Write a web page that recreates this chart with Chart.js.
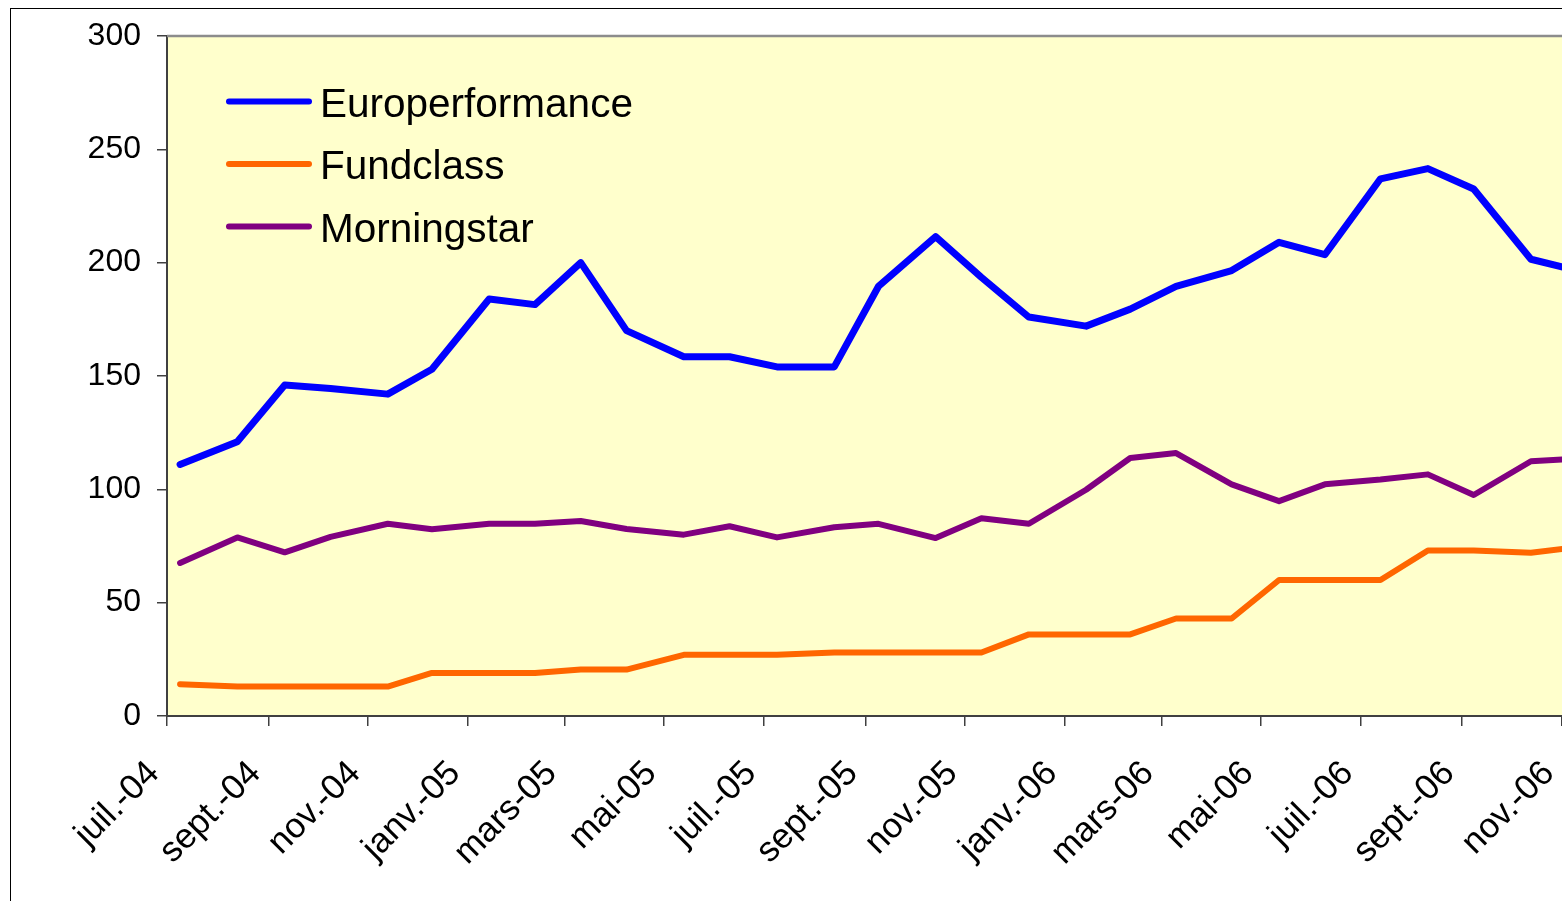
<!DOCTYPE html>
<html>
<head>
<meta charset="utf-8">
<script src="https://cdn.jsdelivr.net/npm/chart.js@4/dist/chart.umd.min.js"></script>
<style>
html,body{margin:0;padding:0;background:#ffffff;overflow:hidden;}
#wrap{width:1562px;height:901px;position:relative;}
</style>
</head>
<body>
<div id="wrap"><canvas id="c" width="1562" height="901"></canvas></div>
<script>
// ---- data ----
const dates = ["2004-07-09","2004-08-13","2004-09-11","2004-10-09","2004-11-13","2004-12-10",
  "2005-01-14","2005-02-11","2005-03-11","2005-04-08","2005-05-13","2005-06-10",
  "2005-07-09","2005-08-13","2005-09-09","2005-10-14","2005-11-11","2005-12-10",
  "2006-01-14","2006-02-10","2006-03-10","2006-04-13","2006-05-12","2006-06-09",
  "2006-07-13","2006-08-11","2006-09-08","2006-10-13","2006-11-10"];
const europerformance = [111,121,146,144.5,142,153,184,181.5,200,170,158.5,158.5,
  154,154,189.5,211.5,193.5,176,172,179.5,189.5,196.5,209,203.5,237,241.5,232.5,201.5,196.5];
const fundclass = [14,13,13,13,13,19,19,19,20.5,20.5,27,27,
  27,28,28,28,28,36,36,36,43,43,60,60,60,73,73,72,74.5];
const morningstar = [67.5,78.8,72.2,79,84.8,82.4,84.8,84.8,86,82.5,80,83.7,
  78.8,83.3,84.8,78.5,87.2,84.8,99.8,113.8,116,102.2,94.8,102.2,104.3,106.6,97.5,112.4,113.5];
const seriesNames = ["Europerformance","Fundclass","Morningstar"];
const tickDates = ["2004-07-01","2004-09-01","2004-11-01","2005-01-01","2005-03-01","2005-05-01",
  "2005-07-01","2005-09-01","2005-11-01","2006-01-01","2006-03-01","2006-05-01",
  "2006-07-01","2006-09-01","2006-11-01"];
const tickLabels = ["juil.-04","sept.-04","nov.-04","janv.-05","mars-05","mai-05",
  "juil.-05","sept.-05","nov.-05","janv.-06","mars-06","mai-06",
  "juil.-06","sept.-06","nov.-06"];

// ---- helpers ----
const ORIGIN = Date.UTC(2004, 6, 1);
function dayOf(s){ const p = s.split('-').map(Number); return (Date.UTC(p[0], p[1]-1, p[2]) - ORIGIN) / 86400000; }
function pts(vals){ return dates.map((d, i) => ({x: dayOf(d), y: vals[i]})); }

const FONT = "'Liberation Sans', Arial, Helvetica, sans-serif";
const AXIS = '#404040';

const framePlugin = {
  id: 'frame',
  beforeDraw(chart){
    const {ctx, chartArea: a} = chart;
    ctx.save();
    ctx.fillStyle = '#ffffff';
    ctx.fillRect(0, 0, chart.width, chart.height);
    ctx.fillStyle = '#FFFFCC';
    ctx.fillRect(a.left, a.top, a.right - a.left, a.bottom - a.top);
    ctx.strokeStyle = '#000000';
    ctx.lineWidth = 1;
    ctx.strokeRect(10.5, 8.5, 3000, 3000);
    ctx.restore();
  },
  beforeDatasetsDraw(chart){
    const {ctx, chartArea: a} = chart;
    ctx.save();
    ctx.strokeStyle = '#8c8c8c';
    ctx.lineWidth = 2.5;
    ctx.beginPath();
    ctx.moveTo(a.left, a.top);
    ctx.lineTo(a.right, a.top);
    ctx.stroke();
    ctx.restore();
  }
};

const legendPlugin = {
  id: 'insideLegend',
  afterDatasetsDraw(chart){
    const {ctx, chartArea: a} = chart;
    ctx.save();
    chart.data.datasets.forEach((ds, i) => {
      const y = a.top + 65.5 + i * 62.5;
      ctx.strokeStyle = ds.borderColor;
      ctx.lineWidth = 6;
      ctx.lineCap = 'round';
      ctx.beginPath();
      ctx.moveTo(a.left + 62, y);
      ctx.lineTo(a.left + 142, y);
      ctx.stroke();
      ctx.fillStyle = '#000000';
      ctx.font = '40.5px ' + FONT;
      ctx.textBaseline = 'alphabetic';
      ctx.textAlign = 'left';
      ctx.fillText(ds.label, a.left + 153, y + 15);
    });
    ctx.restore();
  }
};

new Chart(document.getElementById('c'), {
  type: 'line',
  data: {
    datasets: [
      {label: seriesNames[0], data: pts(europerformance), borderColor: '#0000FF', borderWidth: 7},
      {label: seriesNames[1], data: pts(fundclass), borderColor: '#FF6600', borderWidth: 6},
      {label: seriesNames[2], data: pts(morningstar), borderColor: '#800080', borderWidth: 6}
    ].map(d => Object.assign(d, {pointRadius: 0, pointHoverRadius: 0, tension: 0, fill: false,
        borderJoinStyle: 'round', borderCapStyle: 'round', backgroundColor: d.borderColor}))
  },
  options: {
    responsive: false,
    devicePixelRatio: 1,
    animation: false,
    events: [],
    layout: {padding: {top: 36, right: 0, bottom: 0, left: 0}},
    plugins: {legend: {display: false}, tooltip: {enabled: false}, title: {display: false}},
    scales: {
      x: {
        type: 'linear',
        min: 0,
        max: dayOf(tickDates[tickDates.length - 1]),
        afterBuildTicks(scale){ scale.ticks = tickDates.map(d => ({value: dayOf(d)})); },
        afterFit(scale){ scale.height = 185; scale.paddingLeft = 0; scale.paddingRight = 0; },
        ticks: {
          autoSkip: false,
          minRotation: 45,
          maxRotation: 45,
          padding: 27,
          labelOffset: -13,
          color: '#000000',
          font: {family: FONT, size: 35},
          callback: (v, i) => tickLabels[i]
        },
        grid: {drawOnChartArea: false, drawTicks: true, tickLength: 10, color: AXIS, lineWidth: 1.5},
        border: {display: true, color: AXIS, width: 2}
      },
      y: {
        min: 0,
        max: 300,
        afterFit(scale){ scale.width = 167; },
        ticks: {stepSize: 50, padding: 16, color: '#000000', font: {family: FONT, size: 32}},
        grid: {drawOnChartArea: false, drawTicks: true, tickLength: 10, color: AXIS, lineWidth: 1.5},
        border: {display: true, color: AXIS, width: 2}
      }
    }
  },
  plugins: [framePlugin, legendPlugin]
});
</script>
</body>
</html>
